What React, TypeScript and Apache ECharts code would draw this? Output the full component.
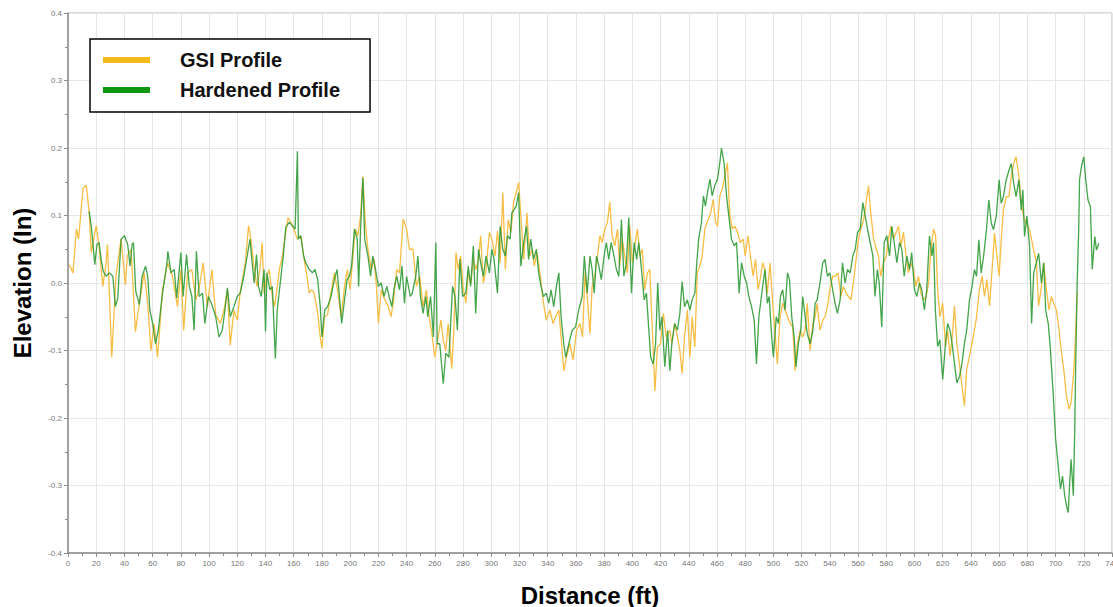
import React, { useEffect, useRef } from "react";
import * as echarts from "echarts";

const seriesNames = ["GSI Profile", "Hardened Profile"];
const xTicks = { min: 0, max: 740, step: 20 };
const yTicks = { min: -0.4, max: 0.4, step: 0.1 };

// [distance (ft), elevation (in)]
const gsiProfile: [number, number][] = [
  [1,0.027],[3.5,0.015],[6,0.08],[7.5,0.065],[10.6,0.14],[13,0.145],[15,0.105],[16.5,0.045],[20,0.085],[22,0.055],[24.7,-0.005],[27,0.03],[28,0.057],[31,-0.11],[34,0.01],[37.6,0.065],[40.7,-0.003],[42,0.04],[44.7,0.05],[47.8,-0.072],[50.6,-0.03],[54,0.015],[56.5,-0.03],[58.8,-0.1],[61,-0.06],[63.5,-0.11],[67,-0.01],[70.6,0.03],[74,0.01],[77.6,-0.035],[80,0.02],[82,-0.07],[84.7,0.015],[87.8,0.02],[90.6,-0.025],[93,-0.007],[95.8,0.03],[98.8,-0.035],[102,0.02],[104.7,-0.047],[108,-0.06],[110.6,-0.04],[113,-0.01],[115,-0.092],[117.6,-0.04],[120,-0.055],
  [122,-0.015],[125.7,0.03],[128,0.085],[130,0.06],[131.7,0.025],[134,-0.005],[136,0.02],[137.6,0.06],[139,-0.015],[141,0.01],[142.6,0.02],[144.8,-0.02],[146.4,-0.035],[148,-0.01],[150,0.022],[152,0.04],[154,0.07],[156,0.097],[158,0.09],[160,0.08],[162.6,0.065],[165,0.07],[167.4,0.035],[169,0.015],[171,-0.015],[172.6,-0.01],[174.5,-0.015],[177,-0.045],[178.8,-0.08],[180,-0.097],[181.7,-0.05],[184,-0.047],[186.4,-0.015],[188.8,0.015],[191,-0.01],[193.6,-0.05],[196,-0.005],[198,0.02],[200,-0.01],[202,0.04],[203.6,0.08],[205.5,0.07],[207.4,0.1],[209,0.158],[210.7,0.09],[212.6,0.05],[215,0.02],[217,0.035],[218.6,-0.005],[220,-0.06],[222,-0.01],[224.6,-0.025],[227,-0.035],[229,-0.05],[230.5,-0.03],[233,0.02],[235,0.015],[237.6,0.095],[240,0.08],[242,0.05],
  [244.5,0.05],[247,-0.005],[249.3,0.01],[251.7,-0.035],[254,-0.01],[256,-0.05],[257.6,-0.07],[260,-0.11],[262.4,-0.08],[264.3,-0.055],[266,-0.085],[267.8,-0.1],[269.5,-0.06],[272,-0.127],[273.5,-0.07],[275,0.045],[276.6,0.02],[278.3,0.04],[280,-0.005],[282,-0.03],[283.7,0.015],[285.6,0.0],[287.3,0.035],[289,0.02],[291,0.035],[292.5,0.07],[294.4,0.0],[296.3,0.02],[298.7,0.075],[300.4,0.065],[302.7,0.04],[304.4,0.077],[306.3,0.03],[308.2,0.134],[310,0.02],[312,0.094],[314,0.075],[315.8,0.12],[317.7,0.134],[319.4,0.149],[321,0.1],[323,0.035],[325.3,0.104],[327.2,0.04],[329,0.05],[330.5,0.025],[332.4,0.045],[334.8,0.01],[336.7,-0.025],[339,-0.055],[341.5,-0.04],[343.8,-0.06],[345.7,-0.05],[347.9,-0.04],[349.5,-0.08],[351.4,-0.13],[353.3,-0.11],[355.7,-0.09],[358,-0.114],[360.5,-0.07],[362.8,-0.06],[364.7,-0.08],[366.5,0.015],[368,-0.02],[370,-0.075],[371.5,-0.005],[373.4,0.01],[375.3,0.04],[377,0.07],[378.6,0.06],[380.5,0.08],[382.4,0.09],[384,0.12],[385.7,0.07],[387.6,0.055],[389.5,0.08],[391,0.025],[392.8,0.065],[394.6,0.04],[396.5,0.015],[398.2,0.085],[400,0.03],[401.7,0.055],[403.6,0.08],[405.3,0.04],[407,0.05],[408.8,-0.01],[410.7,0.015],[412.4,0.02],[414,-0.06],[416,-0.16],[417.8,-0.095],[420,-0.09],[422,-0.045],[424,-0.08],[426.6,-0.07],[428,-0.09],[430,-0.06],[432,-0.08],[433.7,-0.1],[435.3,-0.134],[437,-0.08],[439,-0.04],[440.8,-0.11],[442.4,-0.05],[444.3,-0.095],[446,0.015],[447.8,0.025],[449.5,0.04],[451.4,0.08],[453,0.09],[455.6,0.104],[457.3,0.124],[459,0.09],[460.4,0.084],[462,0.129],[463.7,0.139],[465.6,0.158],[467.4,0.178],[469,0.104],[470.8,0.08],[472.7,0.084],[474.6,0.075],[476.5,0.06],[478.6,0.065],[480,0.04],[482,0.07],[484,0.035],[485.7,0.01],[487.3,0.035],[489.2,-0.01],[491,0.01],
  [492.4,0.03],[494,0.02],[495.7,-0.015],[497.6,0.03],[499.5,-0.03],[501,-0.07],[502.8,-0.12],[504.7,-0.05],[506.6,-0.03],[508.3,-0.04],[510,-0.05],[512,-0.06],[513.7,-0.065],[515.4,-0.13],[517,-0.09],[519,-0.07],[520.8,-0.08],[522.5,-0.07],[524,-0.03],[526,-0.1],[528,-0.06],[529.6,-0.05],[531,-0.03],[533,-0.07],[535,-0.055],[536.6,-0.05],[538.3,-0.035],[540,-0.01],[542,0.01],[544,0.01],[545.8,0.015],[547.8,-0.02],[549.6,-0.005],[551.5,-0.015],[553.2,-0.02],[555,-0.025],[556.7,0.0],[558.6,0.035],[560.3,0.065],[562,0.08],[564,0.094],[565.7,0.119],[567.4,0.144],[569,0.104],[571,0.065],[573,0.05],[574.5,0.04],[576,0.01],[578,0.03],[580,0.04],[581.6,0.065],[583.2,0.084],[585,0.065],[587,0.075],[588.7,0.084],[590.3,0.055],[592.2,0.075],[594,0.04],[595.7,0.015],[597.4,0.03],[599.3,0.02],[601,-0.005],[602.8,0.01],[604.5,-0.015],[606.4,-0.025],[608.3,-0.02],[610,0.0],[611.6,0.05],[613.5,0.08],[615,0.07],[616.4,-0.01],[618,-0.05],[620,-0.03],[622,-0.094],[623.5,-0.07],[625.2,-0.108],[626.6,-0.084],[628.3,-0.034],[630,-0.089],[632,-0.123],[633.7,-0.153],[635.4,-0.182],[637,-0.128],[639,-0.108],[640.8,-0.089],[642.5,-0.07],[644,-0.05],[646,-0.01],[648,0.01],[649.6,-0.02],[651.3,0.005],[653.2,-0.034],[655,0.02],[656.7,0.074],[658.4,0.04],[660,0.01],[661.5,0.064],[663,0.108],[665,0.128],[667,0.128],[668.6,0.158],[670.3,0.177],[672,0.187],[674,0.158],[675.7,0.118],[677.3,0.099],[679,0.089],[681.6,0.079],[684,0.054],[686.4,0.03],[688,-0.034],[690,-0.005],[691.6,0.03],[693.5,-0.01],[695.4,-0.04],[697,-0.02],[698.7,-0.03],[700.6,-0.04],[702.5,-0.07],[704,-0.1],[705.8,-0.128],[707.7,-0.167],[709.6,-0.187],[711,-0.177],[713,-0.128],[714.3,-0.07],[715.3,-0.015],
];

const hardenedProfile: [number, number][] = [
  [15,0.106],[16.5,0.084],[17.6,0.06],[19,0.027],[20.5,0.057],[22,0.06],[23.5,0.035],[25,0.017],[27,0.01],[29.4,0.015],[31.8,0.01],[33.6,-0.035],[35.3,-0.022],[37.6,0.065],[40,0.07],[42.3,0.057],[44,0.025],[45.4,0.057],[46.4,0.06],[48,-0.012],[50.6,-0.032],[52.5,0.01],[55,0.025],[56.5,0.01],[58,-0.04],[60,-0.06],[62,-0.09],[64,-0.07],[67,-0.015],[70,0.027],[70.8,0.047],[73,0.015],[75.3,0.02],[77,-0.022],[80,0.045],[81.6,-0.02],[84,0.042],[86,-0.005],[87.8,-0.02],[89.4,-0.07],[91,0.047],[93,-0.02],[95.3,-0.015],[97,-0.06],[99.5,-0.02],[102,-0.032],[104.7,-0.05],[107,-0.08],[109.4,-0.07],[111.8,-0.03],[113,-0.007],[115,-0.05],[117.6,-0.035],[120,-0.02],
  [122,-0.015],[124.6,0.01],[127,0.04],[129,0.065],[130.5,0.03],[132,0.0],[133.6,0.042],[135,-0.005],[137,-0.02],[139,0.02],[140,-0.072],[141,0.015],[143,-0.01],[144.8,-0.005],[147,-0.112],[148.3,-0.04],[150.7,0.005],[152.6,0.04],[154.3,0.082],[156.7,0.09],[159,0.085],[161,0.08],[162.6,0.195],[163.3,0.065],[165,0.07],[167,0.04],[168.5,0.03],[171,0.02],[173.3,0.015],[175,0.02],[177,0.005],[178.8,-0.035],[180,-0.08],[182,-0.04],[184,-0.035],[186.4,-0.02],[188.8,0.005],[190.7,0.02],[192.4,-0.02],[194,-0.06],[196,-0.025],[197.8,0.005],[199.5,0.01],[201,0.025],[203,0.08],[205,0.065],[206,-0.005],[207.4,0.08],[209,0.156],[210.3,0.065],[212.6,0.04],[214.5,0.01],[216,0.04],[218,0.02],[220,-0.005],[222,0.0],[224,-0.02],[226,-0.005],[227.6,-0.02],[229.5,-0.035],[231.4,-0.005],[233,0.01],[235,-0.01],[236.7,0.025],[238.5,-0.03],[240,0.01],[242.6,-0.02],
  [244,-0.015],[246.5,0.01],[248,0.04],[249.8,-0.02],[251.7,-0.045],[253.6,-0.02],[255,-0.05],[257,-0.02],[259,-0.08],[260.7,0.06],[261.7,-0.09],[263.5,-0.09],[266,-0.149],[267.8,-0.104],[270,-0.11],[272.6,-0.005],[274.3,-0.02],[276,-0.07],[277.8,0.035],[279.7,-0.02],[282,-0.015],[283.7,0.025],[285.4,-0.005],[287.3,0.055],[289,-0.045],[291,0.05],[292.5,0.03],[294.4,0.01],[296.3,0.04],[298.7,0.015],[300.4,0.05],[302,0.035],[304.4,-0.015],[306.3,0.084],[308.2,0.05],[310,0.04],[311.5,0.07],[313.4,0.065],[314.6,0.104],[316.3,0.109],[317.7,0.114],[319.4,0.134],[321,0.025],[323,0.06],[325,0.084],[326.5,0.035],[328,0.065],[330,0.035],[332,0.05],[333.6,0.015],[335.3,-0.005],[337,-0.02],[339,-0.015],[340.8,-0.03],[342.4,-0.01],[344.3,-0.035],[346.2,-0.005],[347.9,0.015],[349.5,-0.05],[351.4,-0.09],[352.8,-0.11],[355,-0.09],[357.4,-0.07],[359.8,-0.065],[362,-0.04],[364.5,-0.02],[366,0.04],
  [368,-0.015],[370,0.04],[371.5,0.02],[373,-0.015],[374.6,0.04],[376.3,0.025],[378,0.005],[380,0.04],[381.6,0.06],[383.3,0.035],[385,0.06],[387,0.04],[388.7,0.02],[390.4,0.01],[392.3,0.094],[394,0.01],[395.8,0.03],[397.5,0.097],[399.4,-0.015],[401.3,0.06],[403,0.035],[404.6,0.06],[406.5,0.02],[408.4,-0.025],[410,-0.015],[411.7,-0.07],[413,-0.11],[414.8,-0.12],[416.5,-0.09],[418,0.0],[419.5,-0.07],[421,-0.05],[423,-0.124],[425,-0.07],[426.6,-0.13],[428,-0.09],[430,-0.06],[432,-0.07],[433.7,-0.045],[435.3,0.002],[437,-0.035],[439,-0.025],[440.8,-0.04],[442.4,-0.025],[444.3,-0.015],[445.7,0.03],[447,0.065],[449,0.09],[450.4,0.129],[451.8,0.114],[453.3,0.134],[455,0.154],[456.6,0.129],[458.4,0.144],[460.4,0.154],[462,0.178],[463.2,0.2],[465,0.178],[466.8,0.129],[468.4,0.099],[470.3,0.065],[472.2,0.055],[473.9,0.06],[475.7,-0.015],[477.4,0.03],[479.3,0.01],[481,0.0],[482.6,-0.02],[484.5,-0.035],[486.4,-0.055],[488,-0.12],[489.7,-0.05],[491.5,-0.02],
  [492.4,-0.005],[494,0.02],[495.7,-0.03],[497,-0.02],[498.8,-0.08],[500,-0.11],[502,-0.05],[503.5,-0.06],[505,-0.02],[506.6,-0.01],[508.3,-0.04],[510,0.015],[511.4,0.005],[513,-0.05],[514.7,-0.08],[516,-0.124],[517.7,-0.09],[519.4,-0.07],[520.8,-0.02],[522.5,-0.05],[524,-0.075],[526,-0.09],[528,-0.07],[529.6,-0.03],[531,-0.025],[533,0.0],[535,0.03],[536.6,0.035],[538.3,0.01],[540,0.015],[542,-0.01],[543.7,-0.03],[545.4,-0.045],[547.3,-0.025],[549,0.03],[550.8,0.0],[552.5,0.02],[554.4,0.015],[556.3,0.04],[558,0.05],[559.6,0.075],[561.5,0.08],[563.4,0.119],[565,0.1],[566.7,0.08],[568.6,0.06],[570.5,0.04],[572,-0.02],[573.7,0.02],[575,0.0],[576.8,-0.065],[578.5,0.06],[580.4,0.07],[582.3,0.04],[584,0.084],[585.6,0.06],[587.5,0.03],[589.4,0.06],[591,0.05],[592.7,0.01],[594.6,0.04],[596.5,0.02],[598,0.045],[600,-0.01],[601.7,-0.02],[603.5,0.0],[605.2,-0.01],[607,-0.04],[608.7,-0.01],[610.6,0.07],[612.3,0.04],[613.5,0.06],[614.8,-0.04],[616.4,-0.094],[618,-0.084],[620,-0.143],[622,-0.089],[623.5,-0.06],[625.2,-0.07],[626.6,-0.089],[628.3,-0.118],[630,-0.148],[632,-0.138],[633.7,-0.118],[635.4,-0.089],[637,-0.07],[639,-0.025],[640.8,-0.005],[642.5,0.02],[644,0.01],[645.6,0.064],[647.3,0.015],[649,0.04],[651,0.079],[652.7,0.123],[654.4,0.089],[656,0.079],[658,0.099],[660,0.153],[661.5,0.118],[663,0.128],[665,0.153],[667,0.167],[668.6,0.177],[670.3,0.148],[672,0.128],[674,0.153],[675.7,0.108],[676.8,0.138],[678,0.069],[679.7,0.099],[681.6,0.054],[683,-0.06],[684.5,0.015],[686.4,0.03],[688,0.044],[690,0.0],[691.6,0.03],[693,-0.04],[694.8,-0.06],[696.4,-0.1],[698.2,-0.16],[700,-0.23],[701.8,-0.27],[703.5,-0.305],[704.9,-0.286],[706.5,-0.315],[707.7,-0.33],[709,-0.34],[710,-0.296],[711,-0.261],[712.6,-0.315],[713.6,-0.217],[714.3,-0.118],[715.3,0.0],[716.4,0.079],[717,0.153],[718.3,0.172],[720,0.187],[721.4,0.153],[723,0.123],[724.7,0.113],[726,0.02],[727.8,0.069],[729,0.049],[730.7,0.059],
];

const lineColors = ["#F7BD45", "#2F9A36"];
const legendColors = ["#F4B91A", "#0E970E"];

export default function App() {
  const ref = useRef<HTMLDivElement>(null);
  useEffect(() => {
    if (!ref.current) return;
    const chart = echarts.init(ref.current, null, { renderer: "svg" });
    const axisGray = "#8c8c8c";
    const titleFont = { fontSize: 24, fontWeight: "bold" as const, color: "#000", fontFamily: "Liberation Sans, Arial, sans-serif" };
    chart.setOption({
      animation: false,
      backgroundColor: "#fff",
      grid: {
        left: 68, right: 1, top: 13, bottom: 54,
        show: true, borderColor: "#b4b4b4", borderWidth: 1,
        outerBoundsMode: "none",
      },
      legend: {
        orient: "vertical",
        left: 90,
        top: 39,
        padding: [11, 30, 12, 13],
        itemWidth: 47,
        itemHeight: 6,
        itemGap: 10,
        icon: "rect",
        borderColor: "#000",
        borderWidth: 1.5,
        backgroundColor: "#fff",
        textStyle: { fontSize: 20, fontWeight: "bold", color: "#111", fontFamily: "Liberation Sans, Arial, sans-serif", padding: [0, 0, 0, 25] },
        data: seriesNames.map((n, i) => ({ name: n, itemStyle: { color: legendColors[i] } })),
      },
      xAxis: {
        type: "value",
        min: xTicks.min,
        max: xTicks.max,
        interval: xTicks.step,
        name: "Distance (ft)",
        nameLocation: "middle",
        nameGap: 30,
        nameTextStyle: titleFont,
        axisLine: { show: true, onZero: false, lineStyle: { color: axisGray, width: 1.5 } },
        axisTick: { show: true, length: 4, lineStyle: { color: axisGray } },
        minorTick: { show: true, splitNumber: 2, length: 3, lineStyle: { color: axisGray } },
        axisLabel: { fontSize: 8, color: "#777", margin: 6, showMaxLabel: true, hideOverlap: false },
        splitLine: { show: true, lineStyle: { color: "#e6e6e6", width: 1 } },
      },
      yAxis: {
        type: "value",
        min: yTicks.min,
        max: yTicks.max,
        interval: yTicks.step,
        name: "Elevation (In)",
        nameLocation: "middle",
        nameGap: 34,
        nameTextStyle: titleFont,
        axisLine: { show: true, onZero: false, lineStyle: { color: axisGray, width: 1.5 } },
        axisTick: { show: true, length: 4, lineStyle: { color: axisGray } },
        minorTick: { show: true, splitNumber: 2, length: 3, lineStyle: { color: axisGray } },
        axisLabel: { fontSize: 8, color: "#777", margin: 6, formatter: (v: number) => v.toFixed(1) },
        splitLine: { show: true, lineStyle: { color: "#e6e6e6", width: 1 } },
      },
      series: [
        {
          name: seriesNames[0],
          type: "line",
          data: gsiProfile,
          showSymbol: false,
          color: lineColors[0],
          lineStyle: { color: lineColors[0], width: 1.3 },
          z: 2,
        },
        {
          name: seriesNames[1],
          type: "line",
          data: hardenedProfile,
          showSymbol: false,
          color: lineColors[1],
          lineStyle: { color: lineColors[1], width: 1.3, opacity: 0.9 },
          z: 3,
        },
      ],
    });
    return () => chart.dispose();
  }, []);
  return <div ref={ref} style={{ position: "absolute", left: 0, top: 0, width: 1113, height: 607 }} />;
}
